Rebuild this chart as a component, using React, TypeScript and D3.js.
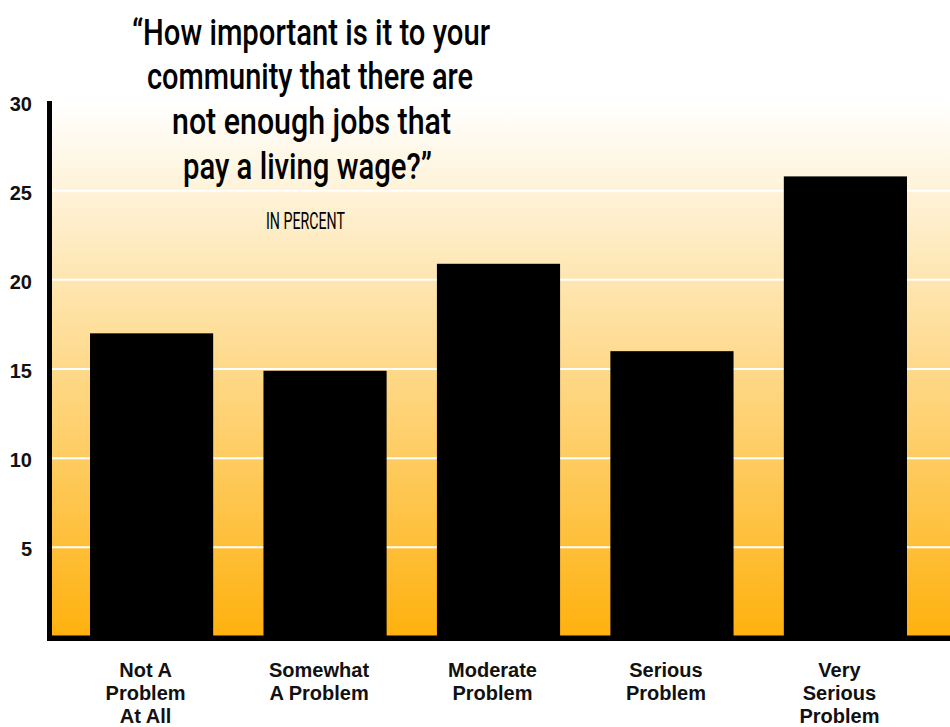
import React from "react";
import * as d3 from "d3";

const categories = [
  "Not A Problem At All",
  "Somewhat A Problem",
  "Moderate Problem",
  "Serious Problem",
  "Very Serious Problem",
];
const labelLines = [
  ["Not A", "Problem", "At All"],
  ["Somewhat", "A Problem"],
  ["Moderate", "Problem"],
  ["Serious", "Problem"],
  ["Very", "Serious", "Problem"],
];
const values = [17, 14.9, 20.9, 16, 25.8];
const yTicks = [5, 10, 15, 20, 25, 30];
const titleLines = [
  "\u201CHow important is it to your",
  "community that there are",
  "not enough jobs that",
  "pay a living wage?\u201D",
];
const subtitle = "IN PERCENT";

const W = 950;
const H = 727;
const axisX = 47;
const axisW = 5;
const plotTop = 101.5;
const plotBottom = 636.5;
const baseBottom = 641;

// title layout (start x, width, baseline)
const titleStart = [132, 147, 172, 183];
const titleWidth = [358, 326, 279, 249];
const titleBase = [44.5, 89, 133.5, 179];

export default function App() {
  const y = d3.scaleLinear().domain([0, 30]).range([plotBottom, plotTop]);
  const x = d3
    .scaleBand<string>()
    .domain(categories)
    .range([axisX, W])
    .paddingInner(0.29)
    .paddingOuter(0.248);

  return (
    <svg
      width={W}
      height={H}
      style={{ position: "absolute", left: 0, top: 0, display: "block", background: "#fff" }}
    >
      <defs>
        <linearGradient id="bg" x1="0" y1="0" x2="0" y2="1">
          <stop offset="0" stopColor="#FFFFFF" />
          <stop offset="0.5" stopColor="#FED98A" />
          <stop offset="1" stopColor="#FFB10E" />
        </linearGradient>
      </defs>
      <rect
        x={axisX + axisW}
        y={plotTop}
        width={W - axisX - axisW}
        height={plotBottom - plotTop}
        fill="url(#bg)"
      />
      {yTicks
        .filter((t) => t < 30)
        .map((t) => (
          <line
            key={t}
            x1={axisX + axisW}
            x2={W}
            y1={y(t)}
            y2={y(t)}
            stroke="#fff"
            strokeWidth={2}
          />
        ))}
      {categories.map((c, i) => (
        <rect
          key={c}
          x={x(c)}
          y={y(values[i])}
          width={x.bandwidth()}
          height={y(0) - y(values[i])}
          fill="#000"
        />
      ))}
      <rect x={axisX} y={plotTop - 0.5} width={axisW} height={baseBottom - plotTop + 0.5} fill="#000" />
      <rect x={axisX} y={plotBottom - 1} width={W - axisX} height={baseBottom - plotBottom + 1} fill="#000" />
      {yTicks.map((t) => (
        <text
          key={t}
          x={32}
          y={y(t) + 9}
          textAnchor="end"
          fontFamily="'Liberation Sans', Arial, sans-serif"
          fontWeight="bold"
          fontSize={20}
          fill="#111"
        >
          {t}
        </text>
      ))}
      {categories.map((c, i) => (
        <text
          key={c}
          textAnchor="middle"
          fontFamily="'Liberation Sans', Arial, sans-serif"
          fontWeight="bold"
          fontSize={20}
          fill="#111"
        >
          {labelLines[i].map((l, j) => (
            <tspan key={j} x={(x(c) as number) + x.bandwidth() / 2 - 6} y={677 + j * 23}>
              {l}
            </tspan>
          ))}
        </text>
      ))}
      {titleLines.map((l, i) => (
        <text
          key={i}
          x={titleStart[i]}
          y={titleBase[i]}
          textLength={titleWidth[i]}
          lengthAdjust="spacingAndGlyphs"
          fontFamily="Roboto, sans-serif"
          fontWeight={500}
          fontSize={37}
          fill="#000"
        >
          {l}
        </text>
      ))}
      <text
        x={266}
        y={228.5}
        textLength={79}
        lengthAdjust="spacingAndGlyphs"
        fontFamily="Roboto, sans-serif"
        fontSize={23}
        fill="#000"
      >
        {subtitle}
      </text>
    </svg>
  );
}
